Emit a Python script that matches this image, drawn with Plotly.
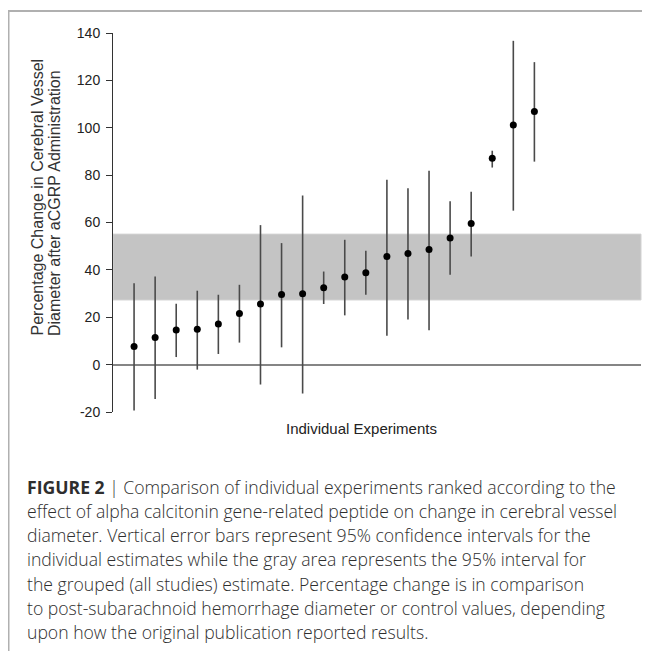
import plotly.graph_objects as go

# ---- data ----
experiment = list(range(1, 21))
estimate = [7.6, 11.5, 14.6, 14.9, 17.1, 21.6, 25.6, 29.6, 29.9, 32.5,
            37.0, 38.8, 45.6, 46.9, 48.6, 53.5, 59.6, 87.1, 101.2, 106.9]
ci_upper = [34.4, 37.2, 25.7, 31.2, 29.5, 33.7, 58.9, 51.3, 71.4, 39.3,
            52.7, 48.1, 78.0, 74.5, 81.8, 69.0, 73.0, 90.3, 136.7, 127.7]
ci_lower = [-19.4, -14.5, 3.2, -2.1, 4.5, 9.3, -8.4, 7.3, -12.2, 25.6,
            20.8, 29.5, 12.2, 19.0, 14.5, 37.9, 45.6, 83.2, 65.0, 85.7]
pooled_low, pooled_high = 27.3, 55.1
y_ticks = [-20, 0, 20, 40, 60, 80, 100, 120, 140]
y_tick_labels = ["-20", "0", "20", "40", "60", "80", "100", "120", "140"]

y_title_lines = ["Percentage Change in Cerebral Vessel",
                 "Diameter after aCGRP Administration"]
x_title = "Individual Experiments"
caption_lines = [
    "<b>FIGURE 2</b> | Comparison of individual experiments ranked according to the",
    "effect of alpha calcitonin gene-related peptide on change in cerebral vessel",
    "diameter. Vertical error bars represent 95% confidence intervals for the",
    "individual estimates while the gray area represents the 95% interval for",
    "the grouped (all studies) estimate. Percentage change is in comparison",
    "to post-subarachnoid hemorrhage diameter or control values, depending",
    "upon how the original publication reported results.",
]

# ---- layout geometry (pixels); page has an 8px body margin ----
OFF = 8
W, H = 642, 643
L, R, T, B = 105, 9, 25, 239
pw, ph = W - L - R, H - T - B


def px(x):  # page pixel -> paper x
    return (x - OFF - L) / pw


def py(y):  # page pixel -> paper y
    return (H - B - (y - OFF)) / ph


fig = go.Figure()
fig.add_trace(go.Scatter(
    x=experiment, y=estimate, mode="markers",
    marker=dict(color="black", size=7),
    error_y=dict(type="data", symmetric=False,
                 array=[u - e for u, e in zip(ci_upper, estimate)],
                 arrayminus=[e - l for e, l in zip(estimate, ci_lower)],
                 color="#4a4a4a", thickness=1.6, width=0),
    showlegend=False,
))

# pooled 95% interval band
fig.add_shape(type="rect", xref="paper", yref="y", x0=0, x1=1,
              y0=pooled_low, y1=pooled_high, fillcolor="#c4c4c4",
              line=dict(color="#d2d2d2", width=1), layer="below")

# outer frame lines (top and left)
fig.add_shape(type="line", xref="paper", yref="paper",
              x0=px(8), x1=px(660), y0=py(11), y1=py(11),
              line=dict(color="#b0b0b0", width=2))
fig.add_shape(type="line", xref="paper", yref="paper",
              x0=px(8.5), x1=px(8.5), y0=py(10), y1=py(660),
              line=dict(color="#b0b0b0", width=2))

# axis titles
for t, xc in zip(y_title_lines, [37, 54]):
    fig.add_annotation(text=t, xref="paper", yref="paper", x=px(xc), y=py(338),
                       xanchor="center", yanchor="bottom", textangle=-90,
                       showarrow=False,
                       font=dict(family="Liberation Sans, Arial", size=16, color="#333"))
fig.add_annotation(text=x_title, xref="paper", yref="paper", x=px(361), y=py(428),
                   xanchor="center", yanchor="middle", showarrow=False,
                   font=dict(family="Liberation Sans, Arial", size=15, color="#222"))

# caption
for i, line in enumerate(caption_lines):
    fig.add_annotation(text=line, xref="paper", yref="paper",
                       x=px(25), y=py(486.7 + 24.2 * i),
                       xanchor="left", yanchor="middle", showarrow=False,
                       font=dict(family="Open Sans", size=17.6, color="#2e2e2e",
                                 weight=300))

fig.update_layout(
    width=W, height=H,
    margin=dict(l=L, r=R, t=T, b=B, pad=0),
    paper_bgcolor="white", plot_bgcolor="white",
    xaxis=dict(range=[0, 25.06], visible=False, showgrid=False, zeroline=False),
    yaxis=dict(range=[-20, 140], tickvals=y_ticks, ticktext=y_tick_labels,
               showgrid=False,
               zeroline=True, zerolinecolor="#858585", zerolinewidth=2,
               showline=True, linecolor="#333", linewidth=1,
               ticks="outside", ticklen=6, tickcolor="#333",
               ticklabelstandoff=3,
               tickfont=dict(family="Liberation Sans, Arial", size=14, color="#222")),
)

fig.write_html("out.html")
